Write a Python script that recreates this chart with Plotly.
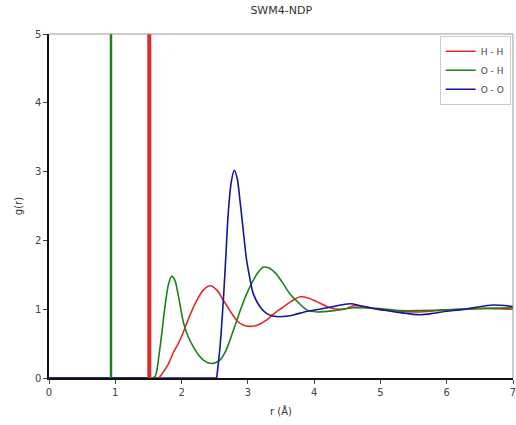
import plotly.graph_objects as go

# Intermolecular RDF curves
r_hh = [1.60, 1.65, 1.72, 1.80, 1.87, 1.95, 2.02, 2.12, 2.23, 2.33, 2.43, 2.53, 2.63, 2.73, 2.83, 2.93, 3.03, 3.15, 3.28, 3.40, 3.50, 3.65, 3.79, 3.92, 4.04, 4.24, 4.45, 4.60, 4.80, 5.00, 5.30, 5.60, 6.00, 6.30, 6.60, 7.00]
g_hh = [0.00, 0.00, 0.08, 0.20, 0.36, 0.50, 0.65, 0.90, 1.13, 1.28, 1.34, 1.28, 1.13, 0.98, 0.84, 0.77, 0.75, 0.77, 0.84, 0.94, 1.01, 1.11, 1.18, 1.16, 1.11, 1.02, 1.00, 1.05, 1.03, 0.99, 0.97, 0.96, 0.99, 1.00, 1.01, 1.00]

r_oh = [1.55, 1.60, 1.67, 1.75, 1.80, 1.85, 1.90, 1.96, 2.03, 2.10, 2.18, 2.26, 2.33, 2.45, 2.58, 2.66, 2.73, 2.82, 2.90, 2.98, 3.06, 3.15, 3.23, 3.32, 3.42, 3.52, 3.63, 3.76, 3.89, 4.05, 4.30, 4.60, 5.00, 5.30, 5.60, 6.00, 6.50, 7.00]
g_oh = [0.00, 0.02, 0.41, 1.04, 1.35, 1.48, 1.42, 1.15, 0.80, 0.60, 0.45, 0.33, 0.26, 0.21, 0.26, 0.38, 0.55, 0.80, 1.02, 1.22, 1.38, 1.53, 1.61, 1.60, 1.52, 1.39, 1.23, 1.10, 0.99, 0.96, 0.98, 1.02, 1.01, 0.98, 0.98, 0.99, 1.01, 1.02]

r_oo = [2.53, 2.58, 2.63, 2.67, 2.70, 2.75, 2.795, 2.84, 2.88, 2.93, 2.98, 3.03, 3.08, 3.18, 3.28, 3.38, 3.48, 3.60, 3.70, 3.90, 4.20, 4.40, 4.55, 4.70, 4.90, 5.10, 5.30, 5.60, 5.80, 6.00, 6.20, 6.40, 6.70, 7.00]
g_oo = [0.00, 0.45, 1.13, 1.80, 2.34, 2.85, 3.02, 2.90, 2.59, 2.15, 1.72, 1.45, 1.23, 1.04, 0.94, 0.90, 0.89, 0.90, 0.92, 0.97, 1.02, 1.06, 1.08, 1.05, 1.01, 0.98, 0.95, 0.92, 0.94, 0.97, 0.99, 1.02, 1.06, 1.04]

# Intramolecular (bond) peaks, drawn as spikes
r_hh_intra = [1.513, 1.513]
g_hh_intra = [0.0, 60.0]
r_oh_intra = [0.935, 0.935]
g_oh_intra = [0.0, 60.0]

series_names = ["H - H", "O - H", "O - O"]
colors = ["#e02a2a", "#1d7f1d", "#16169a"]

x_ticks = [0, 1, 2, 3, 4, 5, 6, 7]
y_ticks = [0, 1, 2, 3, 4, 5]

fig = go.Figure()

# base lines at zero before onset
fig.add_trace(go.Scatter(x=[0, r_hh[0]], y=[0, 0], mode="lines", line=dict(color=colors[0], width=1.6), showlegend=False, hoverinfo="skip"))
fig.add_trace(go.Scatter(x=[0, r_oh[0]], y=[0, 0], mode="lines", line=dict(color=colors[1], width=1.6), showlegend=False, hoverinfo="skip"))
fig.add_trace(go.Scatter(x=[0, r_oo[0]], y=[0, 0], mode="lines", line=dict(color=colors[2], width=1.6), showlegend=False, hoverinfo="skip"))

fig.add_trace(go.Scatter(x=r_hh_intra, y=g_hh_intra, mode="lines", line=dict(color=colors[0], width=4), showlegend=False, hoverinfo="skip"))
fig.add_trace(go.Scatter(x=r_oh_intra, y=g_oh_intra, mode="lines", line=dict(color=colors[1], width=2.5), showlegend=False, hoverinfo="skip"))

for name, rr, gg, c in [(series_names[0], r_hh, g_hh, colors[0]),
                        (series_names[1], r_oh, g_oh, colors[1]),
                        (series_names[2], r_oo, g_oo, colors[2])]:
    fig.add_trace(go.Scatter(x=rr, y=gg, mode="lines", name=name,
                             line=dict(color=c, width=1.6, shape="spline", smoothing=0.8)))

font_family = "DejaVu Sans, Arial, sans-serif"
fig.update_layout(
    width=516, height=425,
    margin=dict(l=49, r=3, t=34, b=47, autoexpand=False),
    paper_bgcolor="white", plot_bgcolor="white",
    font=dict(family=font_family, size=10, color="#444"),
    title=dict(text="SWM4-NDP", x=0.545, xanchor="center", y=0.985, yanchor="top",
               font=dict(size=11, color="#333")),
    xaxis=dict(range=[0, 7], tickvals=x_ticks, ticks="outside", ticklen=4, tickwidth=1,
               ticklabeloverflow="allow", automargin=False,
               showgrid=False, zeroline=False, showline=True, linecolor="#111", linewidth=1.5,
               title=dict(text="r (Å)", font=dict(size=10, color="#333"), standoff=11)),
    yaxis=dict(range=[0, 5], tickvals=y_ticks, ticks="outside", ticklen=4, tickwidth=1,
               automargin=False,
               showgrid=False, zeroline=False, showline=True, linecolor="#111", linewidth=1.5,
               title=dict(text="g(r)", font=dict(size=10, color="#333"), standoff=10)),
    legend=dict(x=0.995, xanchor="right", y=0.995, yanchor="top",
                bgcolor="rgba(255,255,255,0.9)", bordercolor="#ccc", borderwidth=1,
                font=dict(size=9, color="#444"), tracegroupgap=0, itemwidth=30),
    showlegend=True,
)

# top and right spines (lighter)
fig.add_shape(type="line", xref="paper", yref="paper", x0=0, x1=1, y0=1, y1=1, line=dict(color="#999", width=1))
fig.add_shape(type="line", xref="paper", yref="paper", x0=1, x1=1, y0=0, y1=1, line=dict(color="#999", width=1))

fig.write_html("out.html", config={"displayModeBar": False})

# remove default page margin so the 516x425 figure fits the window exactly
with open("out.html", "r", encoding="utf-8") as f:
    html = f.read()
html = html.replace("<body>", '<body style="margin:0;overflow:hidden">', 1)
with open("out.html", "w", encoding="utf-8") as f:
    f.write(html)
